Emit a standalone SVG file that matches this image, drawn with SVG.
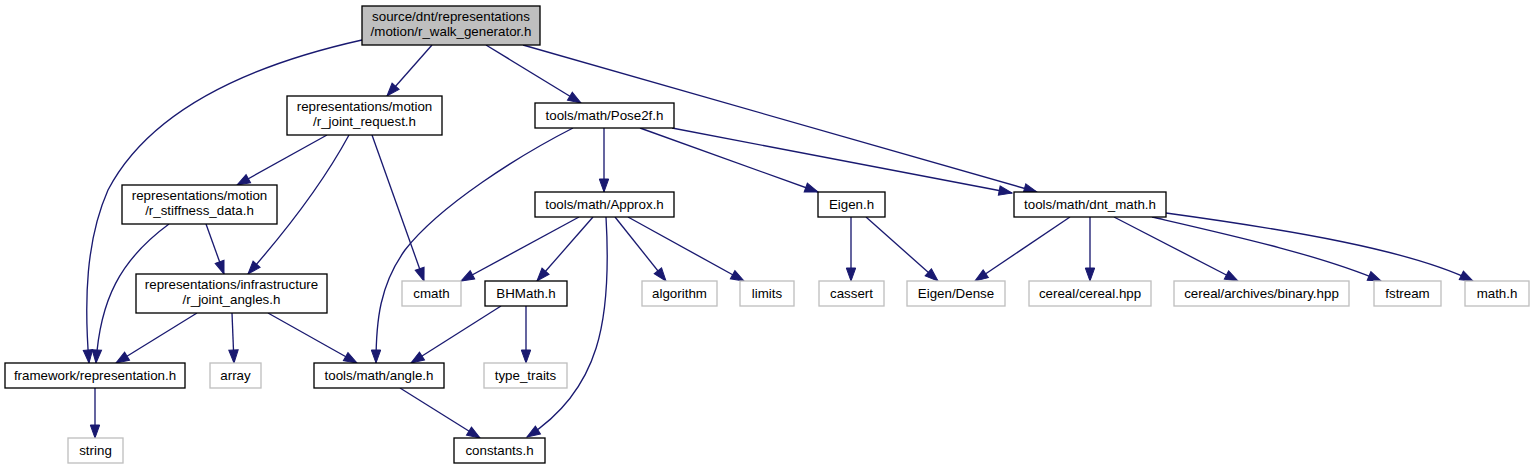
<svg xmlns="http://www.w3.org/2000/svg" width="1533" height="469" viewBox="0 0 1533 469">
<defs>
<style>
.n rect{fill:#fff;stroke:#000;stroke-width:1.33}
.root rect{fill:#bfbfbf;stroke:#000;stroke-width:1.33}
.ext rect{fill:#fff;stroke:#bfbfbf;stroke-width:1.33}
text{font-family:"Liberation Sans",Arial,Helvetica,sans-serif;font-size:13.33px;fill:#000;text-anchor:middle}
#edges path{fill:none;stroke:#191970;stroke-width:1.33;marker-end:url(#ah)}
</style>
<marker id="ah" markerUnits="userSpaceOnUse" markerWidth="14" markerHeight="10" refX="13" refY="4.7" orient="auto" overflow="visible">
<path d="M0,0 L13,4.7 L0,9.4 z" fill="#191970" stroke="#191970" stroke-width="1"/>
</marker>
</defs>
<rect width="1533" height="469" fill="#fff"/>
<g id="edges">
<path d="M432,45 L387,96"/>
<path d="M486,45 L581,103"/>
<path d="M523,45 L1037,192"/>
<path d="M362,40 C250,65 150,110 108,190 C86,240 84,300 89,363"/>
<path d="M604,128 L604,192"/>
<path d="M573,128 C520,155 440,205 405,250 C380,285 376,320 376,363"/>
<path d="M640,128 L818,192"/>
<path d="M672,128 L1012,193"/>
<path d="M327,135 L237,185"/>
<path d="M349,135 C330,170 300,215 248,274"/>
<path d="M372,135 L424,281"/>
<path d="M169,224 C120,260 100,300 96,363"/>
<path d="M206,224 L224,274"/>
<path d="M197,313 L116,363"/>
<path d="M232,313 L234,363"/>
<path d="M268,313 L357,363"/>
<path d="M579,217 L461,281"/>
<path d="M593,217 L537,281"/>
<path d="M606,217 C612,320 600,390 527,437"/>
<path d="M615,217 L666,281"/>
<path d="M628,217 L744,281"/>
<path d="M501,306 L411,363"/>
<path d="M526,306 L526,363"/>
<path d="M400,388 L480,438"/>
<path d="M95,388 L95,438"/>
<path d="M851,217 L851,281"/>
<path d="M866,217 L938,281"/>
<path d="M1070,217 L975,281"/>
<path d="M1090,217 L1090,281"/>
<path d="M1114,217 L1238,281"/>
<path d="M1152,217 C1230,235 1320,255 1381,281"/>
<path d="M1166,213 C1290,230 1410,250 1473,281"/>
</g>
<g id="node_root" class="root"><rect x="362" y="6" width="178" height="39"/><text x="451" y="20.5">source/dnt/representations</text><text x="451" y="35.5">/motion/r_walk_generator.h</text></g>
<g id="node_joint_request" class="n"><rect x="287" y="96" width="155" height="39"/><text x="364.5" y="110.5">representations/motion</text><text x="364.5" y="125.5">/r_joint_request.h</text></g>
<g id="node_pose2f" class="n"><rect x="535" y="103" width="139" height="25"/><text x="604.5" y="119.5">tools/math/Pose2f.h</text></g>
<g id="node_dnt_math" class="n"><rect x="1014" y="192" width="152" height="25"/><text x="1090" y="208.5">tools/math/dnt_math.h</text></g>
<g id="node_representation" class="n"><rect x="5" y="363" width="180" height="25"/><text x="95" y="379.5">framework/representation.h</text></g>
<g id="node_stiffness" class="n"><rect x="122" y="185" width="155" height="39"/><text x="199.5" y="199.5">representations/motion</text><text x="199.5" y="214.5">/r_stiffness_data.h</text></g>
<g id="node_joint_angles" class="n"><rect x="136" y="274" width="191" height="39"/><text x="231.5" y="288.5">representations/infrastructure</text><text x="231.5" y="303.5">/r_joint_angles.h</text></g>
<g id="node_cmath" class="ext"><rect x="402" y="281" width="59" height="25"/><text x="431.5" y="297.5">cmath</text></g>
<g id="node_angle" class="n"><rect x="314" y="363" width="130" height="25"/><text x="379" y="379.5">tools/math/angle.h</text></g>
<g id="node_approx" class="n"><rect x="535" y="192" width="139" height="25"/><text x="604.5" y="208.5">tools/math/Approx.h</text></g>
<g id="node_eigen" class="n"><rect x="818" y="192" width="67" height="25"/><text x="851.5" y="208.5">Eigen.h</text></g>
<g id="node_bhmath" class="n"><rect x="485" y="281" width="82" height="25"/><text x="526" y="297.5">BHMath.h</text></g>
<g id="node_algorithm" class="ext"><rect x="642" y="281" width="75" height="25"/><text x="679.5" y="297.5">algorithm</text></g>
<g id="node_limits" class="ext"><rect x="740" y="281" width="54" height="25"/><text x="767" y="297.5">limits</text></g>
<g id="node_cassert" class="ext"><rect x="819" y="281" width="65" height="25"/><text x="851.5" y="297.5">cassert</text></g>
<g id="node_eigen_dense" class="ext"><rect x="907" y="281" width="98" height="25"/><text x="956" y="297.5">Eigen/Dense</text></g>
<g id="node_cereal" class="ext"><rect x="1029" y="281" width="122" height="25"/><text x="1090" y="297.5">cereal/cereal.hpp</text></g>
<g id="node_binary" class="ext"><rect x="1174" y="281" width="175" height="25"/><text x="1261.5" y="297.5">cereal/archives/binary.hpp</text></g>
<g id="node_fstream" class="ext"><rect x="1374" y="281" width="67" height="25"/><text x="1407.5" y="297.5">fstream</text></g>
<g id="node_math_h" class="ext"><rect x="1465" y="281" width="64" height="25"/><text x="1497" y="297.5">math.h</text></g>
<g id="node_string" class="ext"><rect x="68" y="438" width="55" height="25"/><text x="95.5" y="454.5">string</text></g>
<g id="node_constants" class="n"><rect x="454" y="438" width="91" height="25"/><text x="499.5" y="454.5">constants.h</text></g>
<g id="node_array" class="ext"><rect x="210" y="363" width="51" height="25"/><text x="235.5" y="379.5">array</text></g>
<g id="node_type_traits" class="ext"><rect x="484" y="363" width="83" height="25"/><text x="525.5" y="379.5">type_traits</text></g>
</svg>
